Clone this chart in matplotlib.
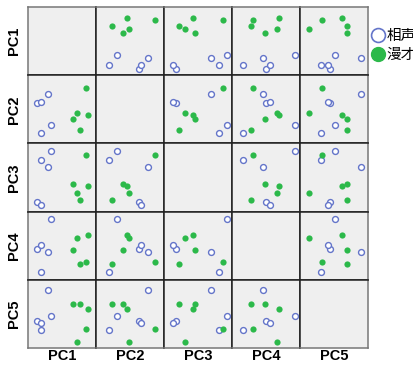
import matplotlib
matplotlib.use("Agg")
import matplotlib.pyplot as plt
from matplotlib.lines import Line2D
import numpy as np

# component scores (arbitrary units)
pcs = ["PC1", "PC2", "PC3", "PC4", "PC5"]
groups = ["相声", "漫才"]

xiangsheng = {
    "PC1": [8.7, 13.3, 19.7, 22.7, 13.0],
    "PC2": [43.3, 44.7, 52.0, 21.0, 13.0],
    "PC3": [12.3, 9.3, 47.0, 63.3, 54.7],
    "PC4": [34.0, 38.0, 31.0, 63.3, 11.0],
    "PC5": [30.3, 27.7, 60.7, 34.7, 21.3],
}
manzai = {
    "PC1": [58.0, 49.0, 44.7, 60.0, 51.7],
    "PC2": [58.7, 33.3, 27.0, 31.3, 16.0],
    "PC3": [59.3, 21.3, 30.7, 28.7, 14.7],
    "PC4": [20.7, 44.7, 33.0, 47.3, 18.7],
    "PC5": [21.7, 9.0, 47.0, 42.0, 47.0],
}

BLUE = "#6475c9"
GREEN = "#2cb94a"
PANEL_BG = "#efefef"

W, H = 414, 365
fig, axes = plt.subplots(5, 5, figsize=(W / 100, H / 100), dpi=100)
fig.subplots_adjust(left=28 / W, right=368 / W, top=1 - 7 / H,
                    bottom=1 - 348 / H, wspace=0, hspace=0)

label_font = dict(family="Liberation Sans", fontsize=10.5, fontweight="bold")

for i, yname in enumerate(pcs):
    for j, xname in enumerate(pcs):
        ax = axes[i, j]
        ax.set_facecolor(PANEL_BG)
        ax.set_xlim(0, 68)
        ax.set_ylim(3, 71)
        ax.set_xticks([])
        ax.set_yticks([])
        if i != j:
            ax.scatter(xiangsheng[xname], xiangsheng[yname], s=18,
                       facecolors="white", edgecolors=BLUE, linewidths=1.0,
                       zorder=3)
            ax.scatter(manzai[xname], manzai[yname], s=20,
                       color=GREEN, linewidths=0, zorder=3)
        for side, sp in ax.spines.items():
            sp.set_linewidth(1.1)
            sp.set_color("#222222")
        if i == 0:
            ax.spines["top"].set_color("#777777")
        if i == 4:
            ax.spines["bottom"].set_color("#777777")
        if j == 0:
            ax.spines["left"].set_color("#777777")
            ax.set_ylabel(yname, labelpad=5, **label_font)
        if j == 4:
            ax.spines["right"].set_color("#777777")
        if i == 4:
            ax.set_xlabel(xname, labelpad=1, **label_font)

handles = [
    Line2D([], [], linestyle="none", marker="o", markersize=10,
           markerfacecolor="white", markeredgecolor=BLUE, markeredgewidth=1.2),
    Line2D([], [], linestyle="none", marker="o", markersize=10,
           markerfacecolor=GREEN, markeredgecolor=GREEN),
]
fig.legend(handles, groups, loc="upper left",
           bbox_to_anchor=(365 / W, 1 - 22 / H), frameon=False,
           handlelength=0.8, handletextpad=0.15, borderpad=0,
           labelspacing=0.3,
           prop={"family": ["Noto Sans CJK SC", "DejaVu Sans"], "size": 10.5})

fig.savefig("out.png", dpi=100)
